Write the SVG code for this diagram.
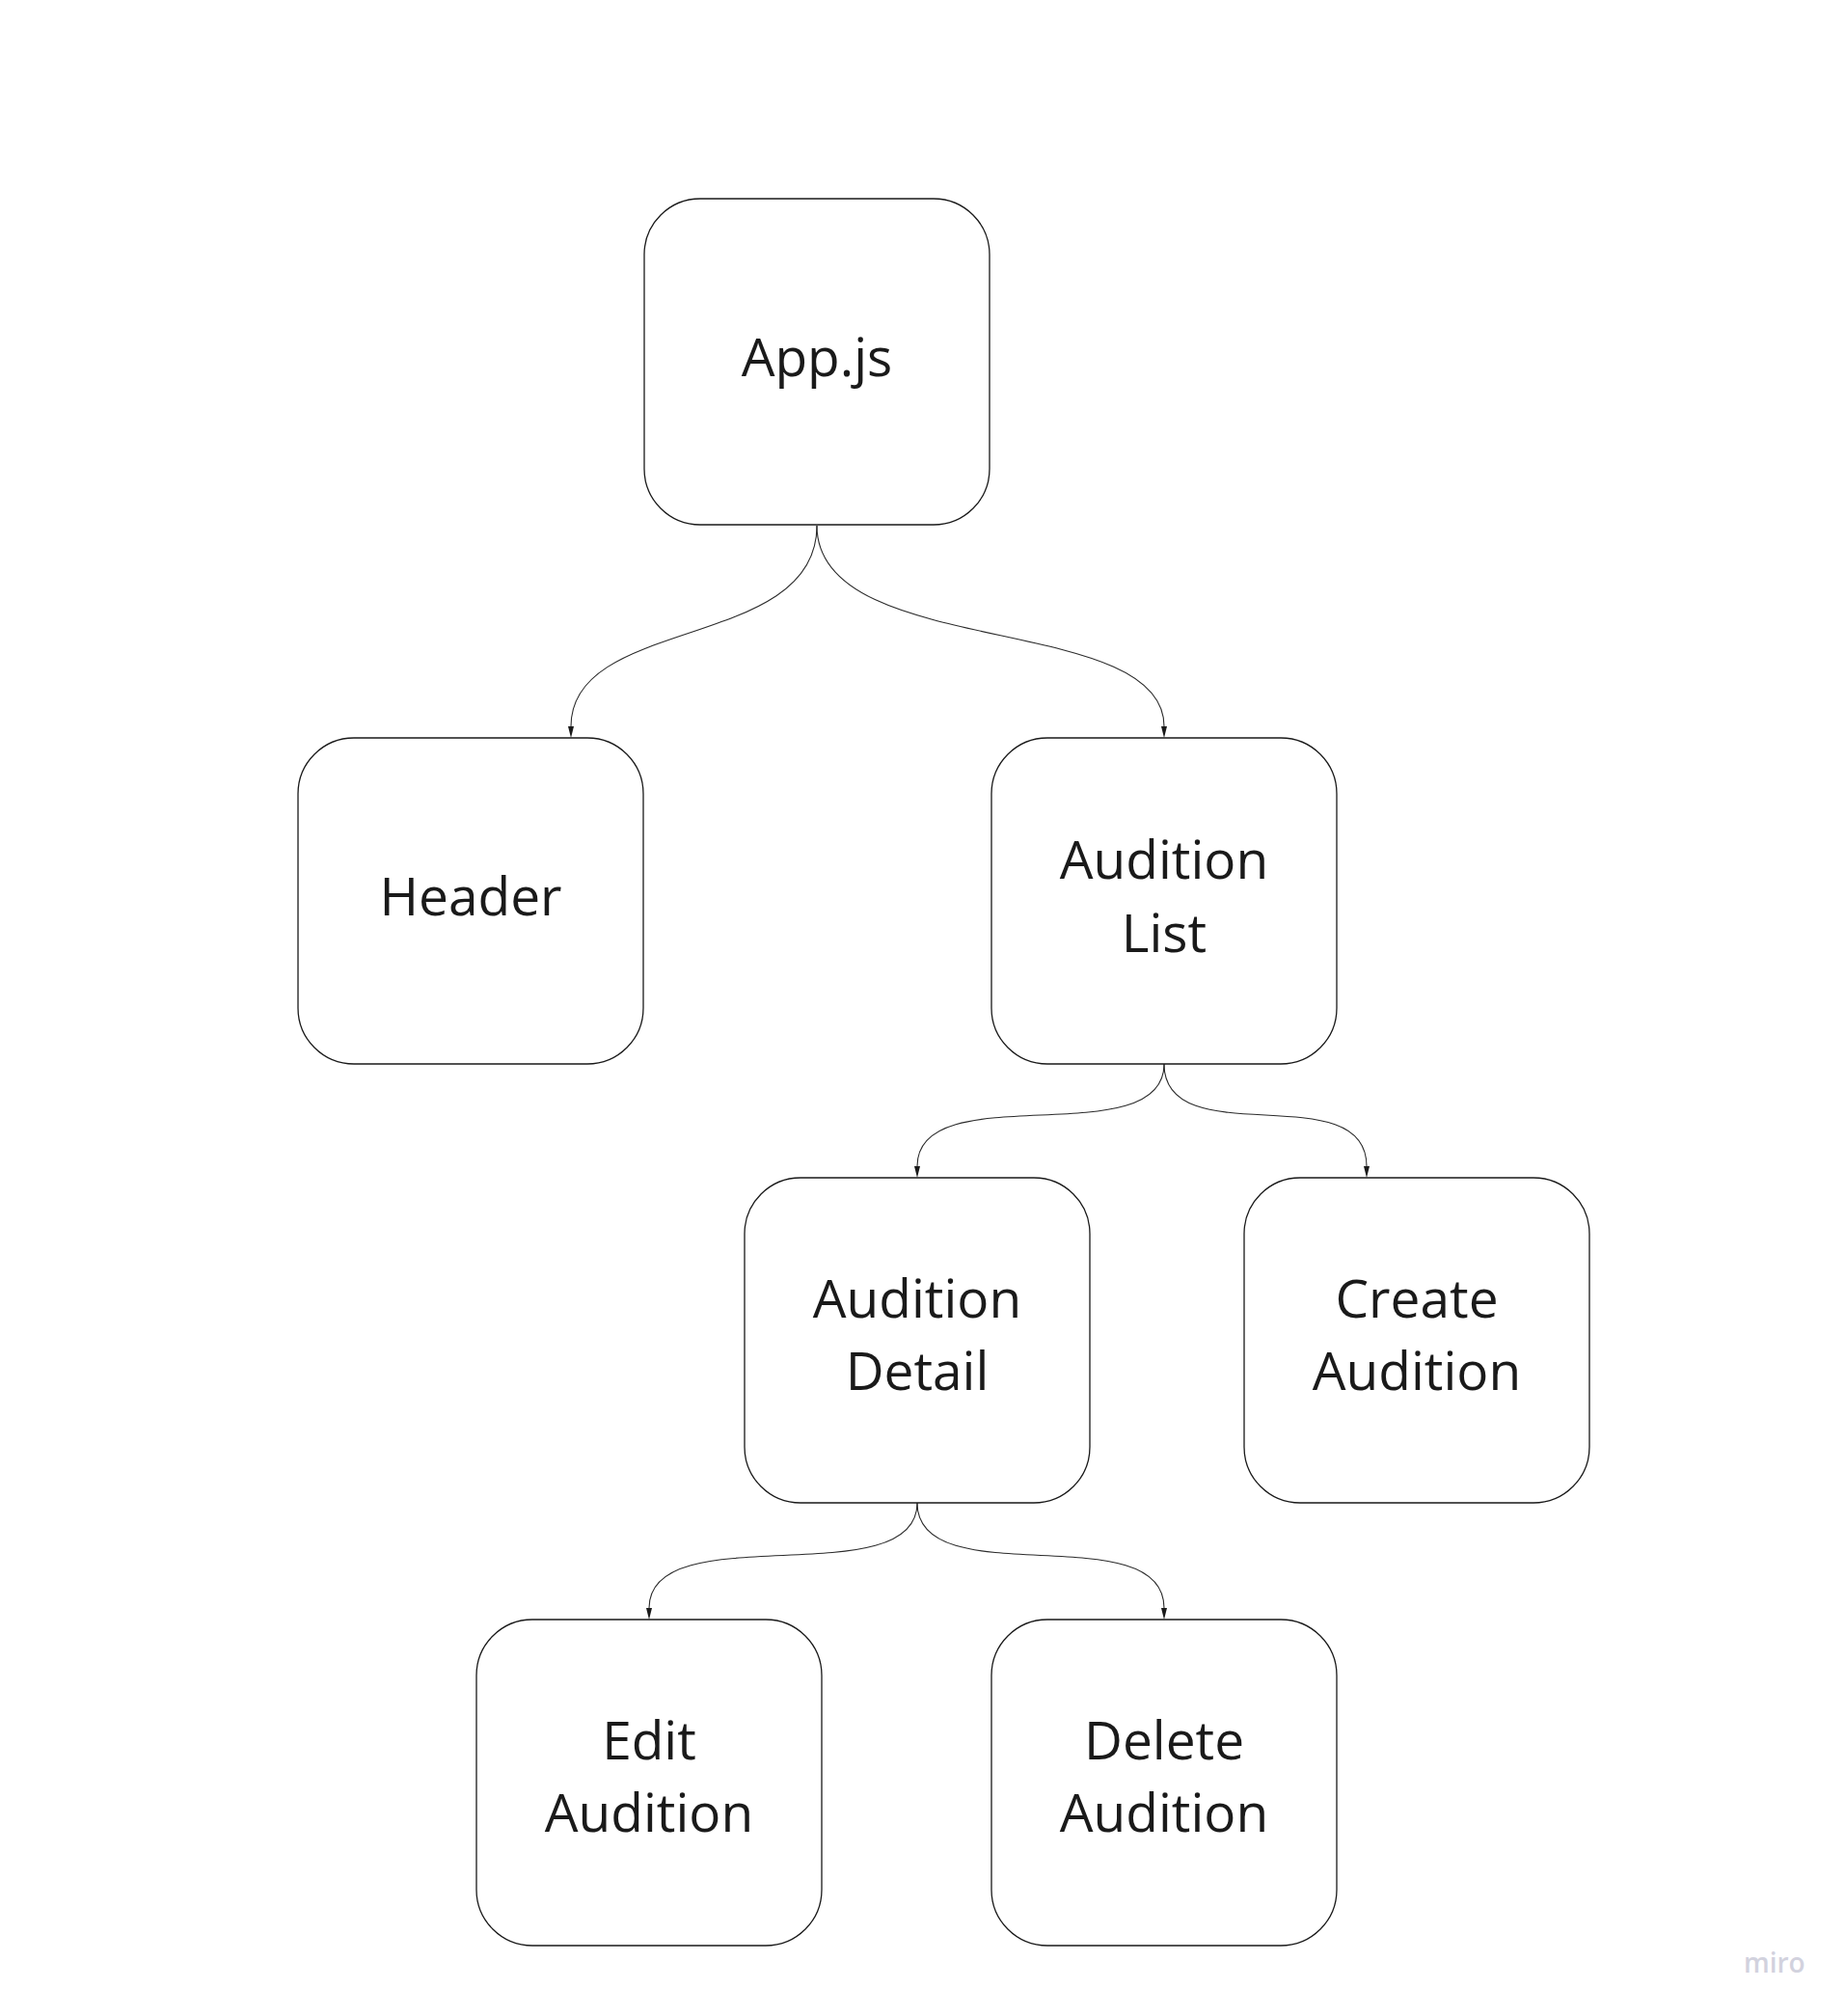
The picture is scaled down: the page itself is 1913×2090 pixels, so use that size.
<svg xmlns="http://www.w3.org/2000/svg" width="1913" height="2090" viewBox="0 0 1913 2090">
<style>
.box{fill:#ffffff;stroke:#1a1a1a;stroke-width:1.3}
.lbl{font-family:"Open Sans","Noto Sans","Liberation Sans",sans-serif;font-size:55px;fill:#1a1a1a;text-anchor:middle}
.conn{fill:none;stroke:#2b2b2b;stroke-width:1.1}
.wm{font-family:"Open Sans","Noto Sans","Liberation Sans",sans-serif;font-size:28px;font-weight:600;fill:#d2d2de}
</style>
<defs>
<marker id="arr" markerUnits="userSpaceOnUse" markerWidth="14" markerHeight="8" refX="0" refY="3" orient="auto" overflow="visible">
<path d="M0,0 L12,3 L0,6 Z" fill="#1a1a1a"/>
</marker>
</defs>
<rect width="1913" height="2090" fill="#ffffff"/>
<g id="connectors">
<path class="conn" marker-end="url(#arr)" d="M847,545 C847,675 592,638 592,753"/>
<path class="conn" marker-end="url(#arr)" d="M847,545 C847,685 1207,633 1207,753"/>
<path class="conn" marker-end="url(#arr)" d="M1207,1103 C1207,1198 951,1114 951,1209"/>
<path class="conn" marker-end="url(#arr)" d="M1207,1103 C1207,1198 1417,1114 1417,1209"/>
<path class="conn" marker-end="url(#arr)" d="M951,1558 C951,1655 673,1570 673,1667"/>
<path class="conn" marker-end="url(#arr)" d="M951,1558 C951,1655 1207,1570 1207,1667"/>
</g>
<g id="node-app">
<rect class="box" x="668" y="206" width="358" height="338" rx="58" ry="58"/>
<text class="lbl" x="847" y="390">App.js</text>
</g>
<g id="node-header">
<rect class="box" x="309" y="765" width="358" height="338" rx="58" ry="58"/>
<text class="lbl" x="488" y="949">Header</text>
</g>
<g id="node-audition-list">
<rect class="box" x="1028" y="765" width="358" height="338" rx="58" ry="58"/>
<text class="lbl" x="1207" y="911">Audition</text>
<text class="lbl" x="1207" y="987">List</text>
</g>
<g id="node-audition-detail">
<rect class="box" x="772" y="1221" width="358" height="337" rx="58" ry="58"/>
<text class="lbl" x="951" y="1366">Audition</text>
<text class="lbl" x="951" y="1441">Detail</text>
</g>
<g id="node-create-audition">
<rect class="box" x="1290" y="1221" width="358" height="337" rx="58" ry="58"/>
<text class="lbl" x="1469" y="1366">Create</text>
<text class="lbl" x="1469" y="1441">Audition</text>
</g>
<g id="node-edit-audition">
<rect class="box" x="494" y="1679" width="358" height="338" rx="58" ry="58"/>
<text class="lbl" x="673" y="1824">Edit</text>
<text class="lbl" x="673" y="1899">Audition</text>
</g>
<g id="node-delete-audition">
<rect class="box" x="1028" y="1679" width="358" height="338" rx="58" ry="58"/>
<text class="lbl" x="1207" y="1824">Delete</text>
<text class="lbl" x="1207" y="1899">Audition</text>
</g>
<text class="wm" x="1808" y="2045">miro</text>
</svg>
